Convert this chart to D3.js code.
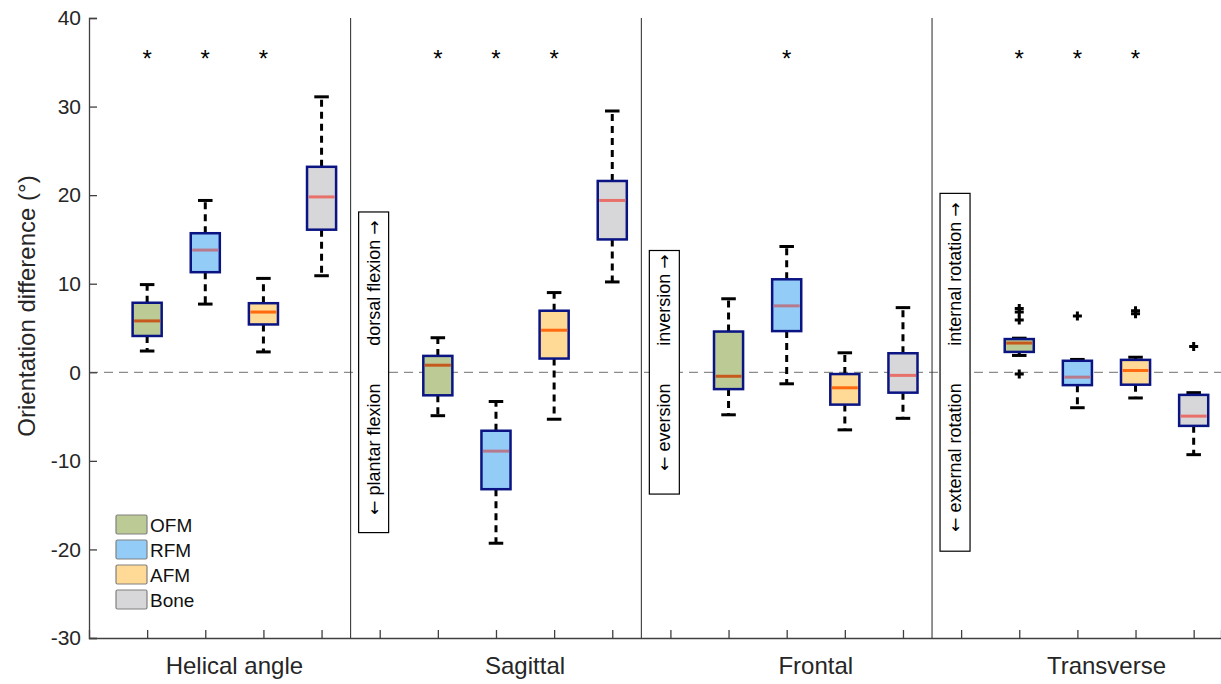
<!DOCTYPE html>
<html>
<head>
<meta charset="utf-8">
<script src="https://cdn.jsdelivr.net/npm/d3@7"></script>
<style>
  body { margin: 0; background: #fff; }
  text { font-family: "Liberation Sans", Arial, sans-serif; }
</style>
</head>
<body>
<div class="chart"></div>
<script>
// categories and series
const categories = ["Helical angle", "Sagittal", "Frontal", "Transverse"];
const series = ["OFM", "RFM", "AFM", "Bone"];

// box statistics, one value per category
const ofmHi  = [9.9, 3.9, 8.3, 3.85];
const ofmQ3  = [7.85, 1.85, 4.6, 3.75];
const ofmMed = [5.8, 0.8, -0.45, 3.3];
const ofmQ1  = [4.1, -2.6, -1.9, 2.3];
const ofmLo  = [2.4, -4.9, -4.8, 1.9];
const ofmOut = [[], [], [], [7.2, 6.8, 5.9, -0.2]];

const rfmHi  = [19.4, -3.3, 14.2, 1.45];
const rfmQ3  = [15.7, -6.6, 10.5, 1.3];
const rfmMed = [13.8, -8.9, 7.5, -0.55];
const rfmQ1  = [11.3, -13.2, 4.65, -1.45];
const rfmLo  = [7.7, -19.3, -1.3, -4.0];
const rfmOut = [[], [], [], [6.35]];

const afmHi  = [10.6, 9.0, 2.2, 1.7];
const afmQ3  = [7.8, 6.95, -0.2, 1.4];
const afmMed = [6.8, 4.75, -1.75, 0.2];
const afmQ1  = [5.4, 1.55, -3.65, -1.4];
const afmLo  = [2.3, -5.3, -6.5, -2.9];
const afmOut = [[], [], [], [6.95, 6.6]];

const boneHi  = [31.1, 29.5, 7.3, -2.3];
const boneQ3  = [23.2, 21.6, 2.15, -2.55];
const boneMed = [19.8, 19.4, -0.35, -4.95];
const boneQ1  = [16.1, 15.0, -2.3, -6.05];
const boneLo  = [10.9, 10.2, -5.2, -9.3];
const boneOut = [[], [], [], [2.9]];

// significance marks (1 = asterisk)
const significant = [[1, 1, 1, 0], [1, 1, 1, 0], [0, 1, 0, 0], [1, 1, 1, 0]];

const yTicks = [-30, -20, -10, 0, 10, 20, 30, 40];

// direction annotations per category (none for helical)
const annotations = [null,
  {lo: "plantar flexion", hi: "dorsal flexion", half: 18.1},
  {lo: "eversion", hi: "inversion", half: 13.75},
  {lo: "external rotation", hi: "internal rotation", half: 20.2}];

const fills = ["#bccb96", "#94ccf8", "#ffda96", "#d7d7d9"];
const medColors = ["#c65a1e", "#b7798c", "#ff6a10", "#e8706a"];

const stats = [
  {hi: ofmHi, q3: ofmQ3, med: ofmMed, q1: ofmQ1, lo: ofmLo, out: ofmOut},
  {hi: rfmHi, q3: rfmQ3, med: rfmMed, q1: rfmQ1, lo: rfmLo, out: rfmOut},
  {hi: afmHi, q3: afmQ3, med: afmMed, q1: afmQ1, lo: afmLo, out: afmOut},
  {hi: boneHi, q3: boneQ3, med: boneMed, q1: boneQ1, lo: boneLo, out: boneOut}
];

const boxes = [];
categories.forEach((c, ci) => {
  series.forEach((s, si) => {
    const st = stats[si];
    boxes.push({cat: ci, ser: si, pos: 1 + 5 * ci + si,
      hi: st.hi[ci], q3: st.q3[ci], med: st.med[ci], q1: st.q1[ci], lo: st.lo[ci],
      out: st.out[ci], sig: significant[ci][si]});
  });
});

const W = 1221, H = 684;
const margin = {left: 89, right: 1221, top: 18, bottom: 638};

const svg = d3.select(".chart").append("svg")
  .attr("width", W)
  .attr("height", H);

const x = d3.scaleLinear().domain([0, 19.47]).range([margin.left, margin.right]);
const y = d3.scaleLinear().domain([-30, 40]).range([margin.bottom, margin.top]);

const boxW = x(0.5) - x(0);
const capW = x(0.25) - x(0);

// zero line
svg.append("line")
  .attr("x1", margin.left).attr("x2", margin.right)
  .attr("y1", y(0)).attr("y2", y(0))
  .attr("stroke", "#8c8c8c").attr("stroke-width", 1.2)
  .attr("stroke-dasharray", "9,6");

// group dividers
svg.selectAll(".divider")
  .data([4.5, 9.5, 14.5])
  .enter().append("line")
  .attr("class", "divider")
  .attr("x1", d => x(d)).attr("x2", d => x(d))
  .attr("y1", margin.top).attr("y2", margin.bottom)
  .attr("stroke", "#262626").attr("stroke-width", 1);

// axes
const yAxis = d3.axisLeft(y).tickValues(yTicks).tickSize(-8).tickPadding(8)
  .tickFormat(d => String(d));
const gy = svg.append("g")
  .attr("transform", "translate(" + margin.left + ",0)")
  .call(yAxis);
gy.selectAll("text").attr("font-size", 21).attr("fill", "#262626")
  .attr("font-family", "Liberation Sans, Arial, sans-serif");

const xAxis = d3.axisBottom(x).tickValues(d3.range(1, 20)).tickSize(-8).tickFormat("");
const gx = svg.append("g")
  .attr("transform", "translate(0," + margin.bottom + ")")
  .call(xAxis);

[gx, gy].forEach(g => {
  g.select(".domain").attr("stroke", "#404040").attr("stroke-width", 1.3);
  g.selectAll(".tick line").attr("stroke", "#404040").attr("stroke-width", 1.3);
});

// category labels
svg.selectAll(".cat-label")
  .data(categories)
  .enter().append("text")
  .attr("class", "cat-label")
  .attr("x", (d, i) => x(2.5 + 5 * i))
  .attr("y", 674)
  .attr("text-anchor", "middle")
  .attr("font-size", 24)
  .attr("fill", "#262626")
  .text(d => d);

// y label
svg.append("text")
  .attr("transform", "translate(35," + 306 + ") rotate(-90)")
  .attr("text-anchor", "middle")
  .attr("font-size", 24)
  .attr("fill", "#262626")
  .text("Orientation difference (\u00b0)");

// direction annotation boxes
const ann = svg.selectAll(".ann")
  .data(annotations.map((a, i) => a ? Object.assign({cat: i}, a) : null).filter(a => a))
  .enter().append("g")
  .attr("class", "ann");

ann.append("rect")
  .attr("x", d => x(5 * d.cat - 0.5) + 8)
  .attr("width", 30)
  .attr("y", d => y(d.half))
  .attr("height", d => y(-d.half) - y(d.half))
  .attr("fill", "#fff")
  .attr("stroke", "#000")
  .attr("stroke-width", 1.2);

const loText = ann.append("text")
  .attr("transform", d => "translate(" + (x(5 * d.cat - 0.5) + 29) + "," + y(-1.25) + ") rotate(-90)")
  .attr("text-anchor", "end")
  .attr("font-size", 18);
loText.append("tspan").attr("font-family", "DejaVu Sans").attr("font-size", 17).text("\u2190");
loText.append("tspan").text(d => " " + d.lo);

const hiText = ann.append("text")
  .attr("transform", d => "translate(" + (x(5 * d.cat - 0.5) + 29) + "," + y(3) + ") rotate(-90)")
  .attr("text-anchor", "start")
  .attr("font-size", 18);
hiText.append("tspan").text(d => d.hi + " ");
hiText.append("tspan").attr("font-family", "DejaVu Sans").attr("font-size", 17).text("\u2192");

// boxes
const g = svg.selectAll(".box")
  .data(boxes)
  .enter().append("g")
  .attr("class", "box");

// whiskers
g.append("line")
  .attr("x1", d => x(d.pos)).attr("x2", d => x(d.pos))
  .attr("y1", d => y(d.q3)).attr("y2", d => y(d.hi))
  .attr("stroke", "#000").attr("stroke-width", 3)
  .attr("stroke-dasharray", "7,5");
g.append("line")
  .attr("x1", d => x(d.pos)).attr("x2", d => x(d.pos))
  .attr("y1", d => y(d.q1)).attr("y2", d => y(d.lo))
  .attr("stroke", "#000").attr("stroke-width", 3)
  .attr("stroke-dasharray", "7,5");

// caps
["hi", "lo"].forEach(k => {
  g.append("line")
    .attr("x1", d => x(d.pos) - capW / 2).attr("x2", d => x(d.pos) + capW / 2)
    .attr("y1", d => y(d[k])).attr("y2", d => y(d[k]))
    .attr("stroke", "#000").attr("stroke-width", 3);
});

// box body
g.append("rect")
  .attr("x", d => x(d.pos) - boxW / 2)
  .attr("width", boxW)
  .attr("y", d => y(d.q3))
  .attr("height", d => y(d.q1) - y(d.q3))
  .attr("fill", d => fills[d.ser])
  .attr("stroke", "#0a1482")
  .attr("stroke-width", 2.5);

// median
g.append("line")
  .attr("x1", d => x(d.pos) - boxW / 2 + 1.5).attr("x2", d => x(d.pos) + boxW / 2 - 1.5)
  .attr("y1", d => y(d.med)).attr("y2", d => y(d.med))
  .attr("stroke", d => medColors[d.ser]).attr("stroke-width", 3);

// outliers
g.selectAll(".outlier")
  .data(d => d.out.map(v => ({pos: d.pos, v: v})))
  .enter().append("path")
  .attr("class", "outlier")
  .attr("d", d => {
    const cx = x(d.pos), cy = y(d.v), r = 4.5;
    return "M" + (cx - r) + "," + cy + "H" + (cx + r) + "M" + cx + "," + (cy - r) + "V" + (cy + r);
  })
  .attr("stroke", "#000").attr("stroke-width", 3);

// significance asterisks
svg.selectAll(".sig")
  .data(boxes.filter(d => d.sig))
  .enter().append("text")
  .attr("class", "sig")
  .attr("x", d => x(d.pos))
  .attr("y", y(34.5))
  .attr("text-anchor", "middle")
  .attr("font-size", 24)
  .text("*");

// legend
const leg = svg.selectAll(".legend")
  .data(series)
  .enter().append("g")
  .attr("class", "legend")
  .attr("transform", (d, i) => "translate(116," + (515 + 25 * i) + ")");

leg.append("rect")
  .attr("width", 31).attr("height", 19)
  .attr("rx", 1.5)
  .attr("fill", (d, i) => fills[i])
  .attr("stroke", "#808080").attr("stroke-width", 1.2);

leg.append("text")
  .attr("x", 34).attr("y", 17)
  .attr("font-size", 19)
  .attr("fill", "#111")
  .text(d => d);
</script>
</body>
</html>
